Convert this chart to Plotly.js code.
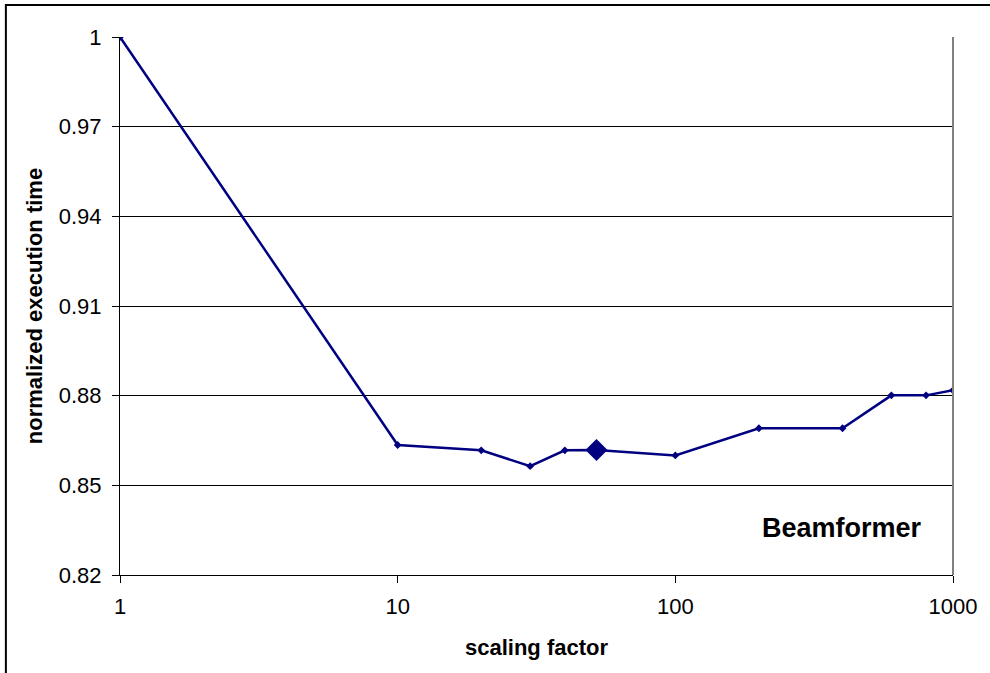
<!DOCTYPE html>
<html>
<head>
<meta charset="utf-8">
<script src="https://cdn.plot.ly/plotly-3.0.1.min.js"></script>
<style>html,body{margin:0;padding:0;background:#fff;}#chart{width:990px;height:673px;}</style>
</head>
<body>
<div id="chart"></div>
<script>
// Data
const scalingFactor = [1, 10, 20, 30, 40, 52, 100, 200, 400, 600, 800, 1000, 1100];
const normTime = [1.0, 0.8635, 0.8617, 0.8564, 0.8617, 0.8618, 0.8600, 0.8691, 0.8691, 0.8801, 0.8801, 0.8818, 0.8830];
const highlightX = [52];
const highlightY = [0.8618];
const yTicks = [0.82, 0.85, 0.88, 0.91, 0.94, 0.97, 1];
const yTickText = ['0.82', '0.85', '0.88', '0.91', '0.94', '0.97', '1'];
const xTicks = [1, 10, 100, 1000];
const xTickText = ['1', '10', '100', '1000'];
const seriesName = 'Beamformer';

const navy = '#000080';
const font = 'Liberation Sans, Arial, sans-serif';

const traces = [
  {
    x: scalingFactor, y: normTime, type: 'scatter', mode: 'lines+markers',
    line: {color: navy, width: 2.5},
    marker: {symbol: 'diamond', size: 6, color: navy},
    showlegend: false, hoverinfo: 'x+y'
  },
  {
    x: highlightX, y: highlightY, type: 'scatter', mode: 'markers',
    marker: {symbol: 'diamond', size: 17, color: navy},
    showlegend: false, hoverinfo: 'x+y'
  }
];

const layout = {
  width: 990, height: 673,
  margin: {l: 120, r: 37, t: 37, b: 98, pad: 0},
  paper_bgcolor: '#fff', plot_bgcolor: '#fff',
  font: {family: font, size: 22, color: '#000'},
  showlegend: false,
  xaxis: {
    type: 'log', range: [0, 3],
    tickvals: xTicks, ticktext: xTickText,
    ticks: 'outside', ticklen: 7, tickcolor: '#000', tickwidth: 1,
    ticklabelstandoff: 5,
    showgrid: false, zeroline: false,
    showline: true, linecolor: '#000', linewidth: 1,
    tickfont: {family: font, size: 22, color: '#000'},
    title: {text: '<b>scaling factor</b>', font: {family: font, size: 22, color: '#000'}, standoff: 21}
  },
  yaxis: {
    range: [0.82, 1.0],
    tickvals: yTicks, ticktext: yTickText,
    ticks: 'outside', ticklen: 7, tickcolor: '#000', tickwidth: 1,
    ticklabelstandoff: 6,
    showgrid: true, gridcolor: '#000', gridwidth: 1,
    zeroline: false,
    showline: true, linecolor: '#000', linewidth: 1,
    tickfont: {family: font, size: 22, color: '#000'},
    title: {text: '<b>normalized execution time</b>', font: {family: font, size: 22, color: '#000'}, standoff: 10}
  },
  shapes: [
    {type: 'line', xref: 'paper', yref: 'paper', x0: 1, x1: 1, y0: 0, y1: 1,
     line: {color: '#808080', width: 2}},
    {type: 'rect', xref: 'paper', yref: 'paper', x0: -0.137, x1: 1.3, y0: -0.4, y1: 1.0595,
     line: {color: '#000', width: 2}, fillcolor: 'rgba(0,0,0,0)', layer: 'below'}
  ],
  annotations: [
    {text: '<b>' + seriesName + '</b>', xref: 'paper', yref: 'paper',
     x: (842 - 120) / 833, y: (575 - 528) / 538, xanchor: 'center', yanchor: 'middle',
     showarrow: false, font: {family: font, size: 27, color: '#000'}}
  ]
};

Plotly.newPlot('chart', traces, layout, {displayModeBar: false, staticPlot: true});
</script>
</body>
</html>
